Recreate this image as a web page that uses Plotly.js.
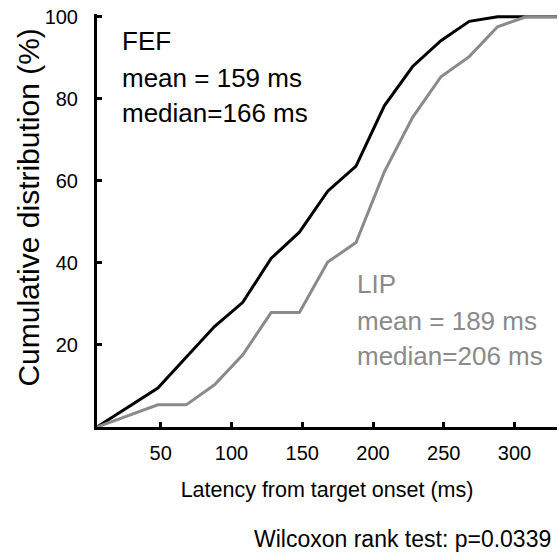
<!DOCTYPE html>
<html>
<head>
<meta charset="utf-8">
<script src="https://cdn.plot.ly/plotly-3.0.1.min.js"></script>
<style>html,body{margin:0;padding:0;background:#fff;}#chart{width:559px;height:552px;}</style>
</head>
<body>
<div id="chart"></div>
<script>
// Latency bins (ms) and cumulative distributions (%)
const latency = [5, 48, 68, 88, 108, 128, 148, 168, 188, 208, 228, 248, 268, 288, 308, 330];
const fefCum  = [0, 9.5, 17, 24.5, 30.4, 41.1, 47.5, 57.5, 63.6, 78.3, 87.9, 94.2, 98.9, 100, 100, 100];
const lipCum  = [0, 5.4, 5.4, 10.3, 17.6, 27.9, 27.9, 40.2, 45, 62.2, 75.5, 85.4, 90.3, 97.6, 100, 100];
const xTicks = [50, 100, 150, 200, 250, 300];
const yTicks = [20, 40, 60, 80, 100];
const fefText = ["FEF", "mean = 159 ms", "median=166 ms"];
const lipText = ["LIP", "mean = 189 ms", "median=206 ms"];
const testText = "Wilcoxon rank test: p=0.0339";
const xTitle = "Latency from target onset (ms)";
const yTitle = "Cumulative distribution (%)";

const FONT = "Liberation Sans, Arial, Helvetica, sans-serif";
const GRAY = "#8a8a8a";

const traces = [
  {x: latency, y: fefCum, mode: "lines", name: "FEF", line: {color: "#000000", width: 3}},
  {x: latency, y: lipCum, mode: "lines", name: "LIP", line: {color: GRAY, width: 3}}
];

const fefY = [0.9356, 0.846, 0.761];
const lipY = [0.347, 0.2576, 0.1729];
const annotations = [];
fefText.forEach((t, i) => annotations.push({
  xref: "paper", yref: "paper", x: 0.05, y: fefY[i], xanchor: "left", yanchor: "middle",
  text: t, showarrow: false, font: {family: FONT, size: 26, color: "#000"}
}));
lipText.forEach((t, i) => annotations.push({
  xref: "paper", yref: "paper", x: 0.561, y: lipY[i], xanchor: "left", yanchor: "middle",
  text: t, showarrow: false, font: {family: FONT, size: 26, color: GRAY}
}));
annotations.push({
  xref: "paper", yref: "paper", x: 0.991, y: -0.272, xanchor: "right", yanchor: "middle",
  text: testText, showarrow: false, font: {family: FONT, size: 23, color: "#000"}
});
// y-axis title (rotated)
annotations.push({
  xref: "paper", yref: "paper", x: -0.148, y: 0.531, xanchor: "center", yanchor: "middle",
  textangle: -90, text: yTitle, showarrow: false, font: {family: FONT, size: 30, color: "#000"}
});

const layout = {
  width: 559, height: 552,
  margin: {l: 97, r: 2, t: 14, b: 125},
  paper_bgcolor: "#fff", plot_bgcolor: "#fff",
  showlegend: false,
  font: {family: FONT, color: "#000"},
  xaxis: {
    range: [5, 330], showgrid: false, zeroline: false,
    showline: true, linewidth: 3, linecolor: "#000",
    ticks: "inside", ticklen: 5, tickwidth: 3, tickcolor: "#000",
    tickvals: xTicks, ticktext: xTicks.map(String),
    tickfont: {family: FONT, size: 20, color: "#000"},
    ticklabelstandoff: 6,
    title: {text: xTitle, font: {family: FONT, size: 21.5, color: "#000"}, standoff: 19}
  },
  yaxis: {
    range: [0, 100.7], showgrid: false, zeroline: false,
    showline: true, linewidth: 3, linecolor: "#000",
    ticks: "inside", ticklen: 5, tickwidth: 3, tickcolor: "#000",
    tickvals: yTicks, ticktext: yTicks.map(String),
    tickfont: {family: FONT, size: 20, color: "#000"},
    ticklabelstandoff: 12
  },
  annotations: annotations
};

Plotly.newPlot("chart", traces, layout, {displayModeBar: false, staticPlot: true});
</script>
</body>
</html>
